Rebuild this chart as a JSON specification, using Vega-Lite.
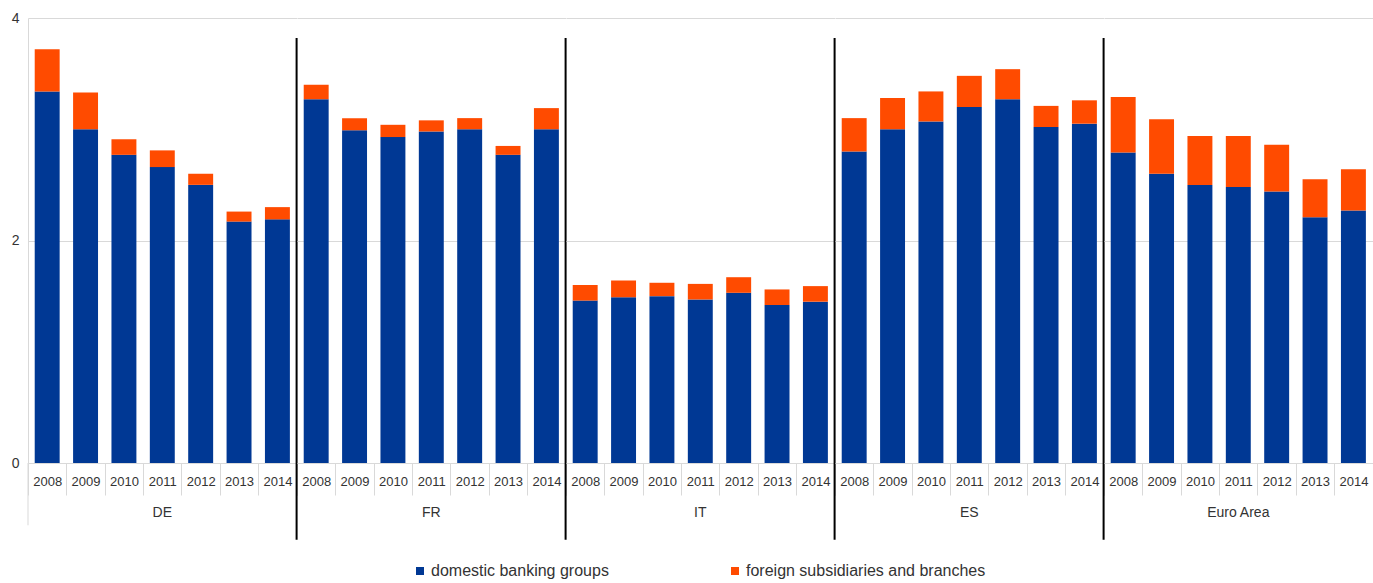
{
  "$schema": "https://vega.github.io/schema/vega-lite/v6.json",
  "background": "white",
  "padding": {"left": 11, "top": 11, "right": 0, "bottom": 0},
  "bounds": "flush",
  "data": {
    "values": [
      {"country": "DE", "year": "2008", "series": "domestic banking groups", "value": 3.34},
      {"country": "DE", "year": "2009", "series": "domestic banking groups", "value": 3.00},
      {"country": "DE", "year": "2010", "series": "domestic banking groups", "value": 2.77},
      {"country": "DE", "year": "2011", "series": "domestic banking groups", "value": 2.66},
      {"country": "DE", "year": "2012", "series": "domestic banking groups", "value": 2.50},
      {"country": "DE", "year": "2013", "series": "domestic banking groups", "value": 2.17},
      {"country": "DE", "year": "2014", "series": "domestic banking groups", "value": 2.19},
      {"country": "FR", "year": "2008", "series": "domestic banking groups", "value": 3.27},
      {"country": "FR", "year": "2009", "series": "domestic banking groups", "value": 2.99},
      {"country": "FR", "year": "2010", "series": "domestic banking groups", "value": 2.93},
      {"country": "FR", "year": "2011", "series": "domestic banking groups", "value": 2.98},
      {"country": "FR", "year": "2012", "series": "domestic banking groups", "value": 3.00},
      {"country": "FR", "year": "2013", "series": "domestic banking groups", "value": 2.77},
      {"country": "FR", "year": "2014", "series": "domestic banking groups", "value": 3.00},
      {"country": "IT", "year": "2008", "series": "domestic banking groups", "value": 1.46},
      {"country": "IT", "year": "2009", "series": "domestic banking groups", "value": 1.49},
      {"country": "IT", "year": "2010", "series": "domestic banking groups", "value": 1.50},
      {"country": "IT", "year": "2011", "series": "domestic banking groups", "value": 1.47},
      {"country": "IT", "year": "2012", "series": "domestic banking groups", "value": 1.53},
      {"country": "IT", "year": "2013", "series": "domestic banking groups", "value": 1.42},
      {"country": "IT", "year": "2014", "series": "domestic banking groups", "value": 1.45},
      {"country": "ES", "year": "2008", "series": "domestic banking groups", "value": 2.80},
      {"country": "ES", "year": "2009", "series": "domestic banking groups", "value": 3.00},
      {"country": "ES", "year": "2010", "series": "domestic banking groups", "value": 3.07},
      {"country": "ES", "year": "2011", "series": "domestic banking groups", "value": 3.20},
      {"country": "ES", "year": "2012", "series": "domestic banking groups", "value": 3.27},
      {"country": "ES", "year": "2013", "series": "domestic banking groups", "value": 3.02},
      {"country": "ES", "year": "2014", "series": "domestic banking groups", "value": 3.05},
      {"country": "Euro Area", "year": "2008", "series": "domestic banking groups", "value": 2.79},
      {"country": "Euro Area", "year": "2009", "series": "domestic banking groups", "value": 2.60},
      {"country": "Euro Area", "year": "2010", "series": "domestic banking groups", "value": 2.50},
      {"country": "Euro Area", "year": "2011", "series": "domestic banking groups", "value": 2.48},
      {"country": "Euro Area", "year": "2012", "series": "domestic banking groups", "value": 2.44},
      {"country": "Euro Area", "year": "2013", "series": "domestic banking groups", "value": 2.21},
      {"country": "Euro Area", "year": "2014", "series": "domestic banking groups", "value": 2.27},
      {"country": "DE", "year": "2008", "series": "foreign subsidiaries and branches", "value": 0.38},
      {"country": "DE", "year": "2009", "series": "foreign subsidiaries and branches", "value": 0.33},
      {"country": "DE", "year": "2010", "series": "foreign subsidiaries and branches", "value": 0.14},
      {"country": "DE", "year": "2011", "series": "foreign subsidiaries and branches", "value": 0.15},
      {"country": "DE", "year": "2012", "series": "foreign subsidiaries and branches", "value": 0.10},
      {"country": "DE", "year": "2013", "series": "foreign subsidiaries and branches", "value": 0.09},
      {"country": "DE", "year": "2014", "series": "foreign subsidiaries and branches", "value": 0.11},
      {"country": "FR", "year": "2008", "series": "foreign subsidiaries and branches", "value": 0.13},
      {"country": "FR", "year": "2009", "series": "foreign subsidiaries and branches", "value": 0.11},
      {"country": "FR", "year": "2010", "series": "foreign subsidiaries and branches", "value": 0.11},
      {"country": "FR", "year": "2011", "series": "foreign subsidiaries and branches", "value": 0.10},
      {"country": "FR", "year": "2012", "series": "foreign subsidiaries and branches", "value": 0.10},
      {"country": "FR", "year": "2013", "series": "foreign subsidiaries and branches", "value": 0.08},
      {"country": "FR", "year": "2014", "series": "foreign subsidiaries and branches", "value": 0.19},
      {"country": "IT", "year": "2008", "series": "foreign subsidiaries and branches", "value": 0.14},
      {"country": "IT", "year": "2009", "series": "foreign subsidiaries and branches", "value": 0.15},
      {"country": "IT", "year": "2010", "series": "foreign subsidiaries and branches", "value": 0.12},
      {"country": "IT", "year": "2011", "series": "foreign subsidiaries and branches", "value": 0.14},
      {"country": "IT", "year": "2012", "series": "foreign subsidiaries and branches", "value": 0.14},
      {"country": "IT", "year": "2013", "series": "foreign subsidiaries and branches", "value": 0.14},
      {"country": "IT", "year": "2014", "series": "foreign subsidiaries and branches", "value": 0.14},
      {"country": "ES", "year": "2008", "series": "foreign subsidiaries and branches", "value": 0.30},
      {"country": "ES", "year": "2009", "series": "foreign subsidiaries and branches", "value": 0.28},
      {"country": "ES", "year": "2010", "series": "foreign subsidiaries and branches", "value": 0.27},
      {"country": "ES", "year": "2011", "series": "foreign subsidiaries and branches", "value": 0.28},
      {"country": "ES", "year": "2012", "series": "foreign subsidiaries and branches", "value": 0.27},
      {"country": "ES", "year": "2013", "series": "foreign subsidiaries and branches", "value": 0.19},
      {"country": "ES", "year": "2014", "series": "foreign subsidiaries and branches", "value": 0.21},
      {"country": "Euro Area", "year": "2008", "series": "foreign subsidiaries and branches", "value": 0.50},
      {"country": "Euro Area", "year": "2009", "series": "foreign subsidiaries and branches", "value": 0.49},
      {"country": "Euro Area", "year": "2010", "series": "foreign subsidiaries and branches", "value": 0.44},
      {"country": "Euro Area", "year": "2011", "series": "foreign subsidiaries and branches", "value": 0.46},
      {"country": "Euro Area", "year": "2012", "series": "foreign subsidiaries and branches", "value": 0.42},
      {"country": "Euro Area", "year": "2013", "series": "foreign subsidiaries and branches", "value": 0.34},
      {"country": "Euro Area", "year": "2014", "series": "foreign subsidiaries and branches", "value": 0.37}
    ]
  },
  "facet": {
    "column": {
      "field": "country",
      "type": "nominal",
      "sort": ["DE", "FR", "IT", "ES", "Euro Area"],
      "header": {
        "title": null,
        "labelOrient": "bottom",
        "labelFont": "Liberation Sans",
        "labelFontSize": 14,
        "labelColor": "#333333",
        "labelPadding": 10
      }
    }
  },
  "spacing": 0,
  "spec": {
    "width": 268.6,
    "height": 445,
    "layer": [
      {
        "mark": {"type": "bar", "width": {"band": 0.65}},
        "encoding": {
          "x": {
            "field": "year",
            "type": "ordinal",
            "scale": {"paddingInner": 0, "paddingOuter": 0},
            "axis": {
              "title": null,
              "labelAngle": 0,
              "labelFont": "Liberation Sans",
              "labelFontSize": 13,
              "labelColor": "#333333",
              "domainColor": "#d9d9d9",
              "tickColor": "#d9d9d9",
              "tickBand": "extent",
              "tickSize": 32,
              "labelPadding": -20
            }
          },
          "y": {
            "field": "value",
            "type": "quantitative",
            "stack": "zero",
            "scale": {"domain": [0, 4], "nice": false, "zero": false},
            "axis": {
              "title": null,
              "values": [0, 2, 4],
              "format": "d",
              "grid": true,
              "gridColor": "#d9d9d9",
              "domainColor": "#d9d9d9",
              "ticks": false,
              "labelPadding": 9,
              "labelFont": "Liberation Sans",
              "labelFontSize": 14,
              "labelColor": "#333333"
            }
          },
          "order": {"field": "series", "sort": "ascending"},
          "color": {
            "field": "series",
            "type": "nominal",
            "scale": {
              "domain": ["domestic banking groups", "foreign subsidiaries and branches"],
              "range": ["#003894", "#ff4b00"]
            },
            "legend": {
              "title": null,
              "orient": "none",
              "direction": "horizontal",
              "legendX": 384,
              "legendY": 545,
              "symbolType": "square",
              "symbolSize": 64,
              "symbolStrokeWidth": 0,
              "labelOffset": 3,
              "labelLimit": 0,
              "labelFont": "Liberation Sans",
              "labelFontSize": 16,
              "labelColor": "#333333",
              "columnPadding": 118
            }
          }
        }
      },
      {
        "transform": [
          {"filter": "datum.series === 'domestic banking groups' && datum.year === '2014' && datum.country !== 'Euro Area'"}
        ],
        "mark": {"type": "rule", "color": "black", "strokeWidth": 2},
        "encoding": {
          "x": {"field": "year", "type": "ordinal", "bandPosition": 1},
          "y": {"datum": 3.82, "scale": {"domain": [0, 4], "nice": false, "zero": false}},
          "y2": {"datum": -0.69}
        }
      },
      {
        "transform": [
          {"filter": "datum.series === 'domestic banking groups' && datum.year === '2008' && datum.country === 'DE'"}
        ],
        "mark": {"type": "rule", "color": "#d9d9d9", "strokeWidth": 1},
        "encoding": {
          "x": {"field": "year", "type": "ordinal", "bandPosition": 0},
          "y": {"datum": 0, "scale": {"domain": [0, 4], "nice": false, "zero": false}},
          "y2": {"datum": -0.56}
        }
      }
    ]
  },
  "config": {
    "view": {"stroke": null},
    "font": "Liberation Sans"
  }
}
